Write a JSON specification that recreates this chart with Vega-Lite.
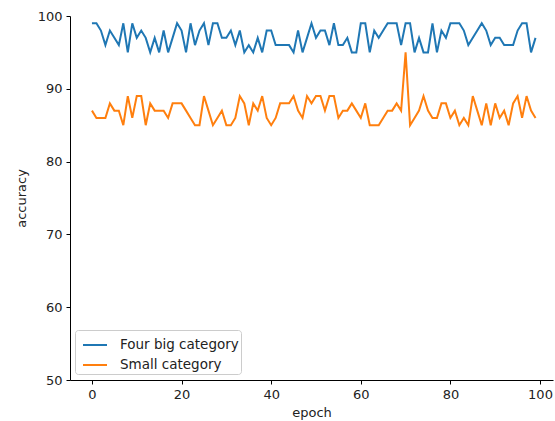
{
  "$schema": "https://vega.github.io/schema/vega-lite/v6.json",
  "width": 483,
  "height": 364,
  "autosize": {"type": "none"},
  "padding": {"left": 70, "top": 16, "right": 2, "bottom": 41},
  "background": "white",
  "config": {
    "font": "DejaVu Sans",
    "view": {"stroke": null},
    "axis": {
      "grid": false,
      "domainColor": "black",
      "tickColor": "black",
      "tickSize": 4,
      "labelFontSize": 13,
      "labelColor": "#222",
      "titleFontSize": 13,
      "titleFontWeight": "normal",
      "titleColor": "#222",
      "labelPadding": 4
    }
  },
  "datasets": {
    "big": [
      {"epoch":0,"accuracy":99},{"epoch":1,"accuracy":99},{"epoch":2,"accuracy":98},{"epoch":3,"accuracy":96},{"epoch":4,"accuracy":98},
      {"epoch":5,"accuracy":97},{"epoch":6,"accuracy":96},{"epoch":7,"accuracy":99},{"epoch":8,"accuracy":95},{"epoch":9,"accuracy":99},
      {"epoch":10,"accuracy":97},{"epoch":11,"accuracy":98},{"epoch":12,"accuracy":97},{"epoch":13,"accuracy":95},{"epoch":14,"accuracy":97},
      {"epoch":15,"accuracy":95},{"epoch":16,"accuracy":98},{"epoch":17,"accuracy":95},{"epoch":18,"accuracy":97},{"epoch":19,"accuracy":99},
      {"epoch":20,"accuracy":98},{"epoch":21,"accuracy":95},{"epoch":22,"accuracy":99},{"epoch":23,"accuracy":96},{"epoch":24,"accuracy":98},
      {"epoch":25,"accuracy":99},{"epoch":26,"accuracy":96},{"epoch":27,"accuracy":99},{"epoch":28,"accuracy":99},{"epoch":29,"accuracy":97},
      {"epoch":30,"accuracy":97},{"epoch":31,"accuracy":98},{"epoch":32,"accuracy":96},{"epoch":33,"accuracy":98},{"epoch":34,"accuracy":95},
      {"epoch":35,"accuracy":96},{"epoch":36,"accuracy":95},{"epoch":37,"accuracy":97},{"epoch":38,"accuracy":95},{"epoch":39,"accuracy":98},
      {"epoch":40,"accuracy":98},{"epoch":41,"accuracy":96},{"epoch":42,"accuracy":96},{"epoch":43,"accuracy":96},{"epoch":44,"accuracy":96},
      {"epoch":45,"accuracy":95},{"epoch":46,"accuracy":98},{"epoch":47,"accuracy":95},{"epoch":48,"accuracy":97},{"epoch":49,"accuracy":99},
      {"epoch":50,"accuracy":97},{"epoch":51,"accuracy":98},{"epoch":52,"accuracy":98},{"epoch":53,"accuracy":96},{"epoch":54,"accuracy":99},
      {"epoch":55,"accuracy":96},{"epoch":56,"accuracy":96},{"epoch":57,"accuracy":97},{"epoch":58,"accuracy":95},{"epoch":59,"accuracy":95},
      {"epoch":60,"accuracy":99},{"epoch":61,"accuracy":99},{"epoch":62,"accuracy":95},{"epoch":63,"accuracy":98},{"epoch":64,"accuracy":97},
      {"epoch":65,"accuracy":98},{"epoch":66,"accuracy":99},{"epoch":67,"accuracy":99},{"epoch":68,"accuracy":99},{"epoch":69,"accuracy":96},
      {"epoch":70,"accuracy":99},{"epoch":71,"accuracy":99},{"epoch":72,"accuracy":95},{"epoch":73,"accuracy":97},{"epoch":74,"accuracy":95},
      {"epoch":75,"accuracy":95},{"epoch":76,"accuracy":99},{"epoch":77,"accuracy":95},{"epoch":78,"accuracy":98},{"epoch":79,"accuracy":97},
      {"epoch":80,"accuracy":99},{"epoch":81,"accuracy":99},{"epoch":82,"accuracy":99},{"epoch":83,"accuracy":98},{"epoch":84,"accuracy":96},
      {"epoch":85,"accuracy":97},{"epoch":86,"accuracy":98},{"epoch":87,"accuracy":99},{"epoch":88,"accuracy":98},{"epoch":89,"accuracy":96},
      {"epoch":90,"accuracy":97},{"epoch":91,"accuracy":97},{"epoch":92,"accuracy":96},{"epoch":93,"accuracy":96},{"epoch":94,"accuracy":96},
      {"epoch":95,"accuracy":98},{"epoch":96,"accuracy":99},{"epoch":97,"accuracy":99},{"epoch":98,"accuracy":95},{"epoch":99,"accuracy":97}
    ],
    "small": [
      {"epoch":0,"accuracy":87},{"epoch":1,"accuracy":86},{"epoch":2,"accuracy":86},{"epoch":3,"accuracy":86},{"epoch":4,"accuracy":88},
      {"epoch":5,"accuracy":87},{"epoch":6,"accuracy":87},{"epoch":7,"accuracy":85},{"epoch":8,"accuracy":89},{"epoch":9,"accuracy":86},
      {"epoch":10,"accuracy":89},{"epoch":11,"accuracy":89},{"epoch":12,"accuracy":85},{"epoch":13,"accuracy":88},{"epoch":14,"accuracy":87},
      {"epoch":15,"accuracy":87},{"epoch":16,"accuracy":87},{"epoch":17,"accuracy":86},{"epoch":18,"accuracy":88},{"epoch":19,"accuracy":88},
      {"epoch":20,"accuracy":88},{"epoch":21,"accuracy":87},{"epoch":22,"accuracy":86},{"epoch":23,"accuracy":85},{"epoch":24,"accuracy":85},
      {"epoch":25,"accuracy":89},{"epoch":26,"accuracy":87},{"epoch":27,"accuracy":85},{"epoch":28,"accuracy":86},{"epoch":29,"accuracy":87},
      {"epoch":30,"accuracy":85},{"epoch":31,"accuracy":85},{"epoch":32,"accuracy":86},{"epoch":33,"accuracy":89},{"epoch":34,"accuracy":88},
      {"epoch":35,"accuracy":85},{"epoch":36,"accuracy":88},{"epoch":37,"accuracy":87},{"epoch":38,"accuracy":89},{"epoch":39,"accuracy":86},
      {"epoch":40,"accuracy":85},{"epoch":41,"accuracy":86},{"epoch":42,"accuracy":88},{"epoch":43,"accuracy":88},{"epoch":44,"accuracy":88},
      {"epoch":45,"accuracy":89},{"epoch":46,"accuracy":87},{"epoch":47,"accuracy":86},{"epoch":48,"accuracy":89},{"epoch":49,"accuracy":88},
      {"epoch":50,"accuracy":89},{"epoch":51,"accuracy":89},{"epoch":52,"accuracy":87},{"epoch":53,"accuracy":89},{"epoch":54,"accuracy":89},
      {"epoch":55,"accuracy":86},{"epoch":56,"accuracy":87},{"epoch":57,"accuracy":87},{"epoch":58,"accuracy":88},{"epoch":59,"accuracy":87},
      {"epoch":60,"accuracy":86},{"epoch":61,"accuracy":88},{"epoch":62,"accuracy":85},{"epoch":63,"accuracy":85},{"epoch":64,"accuracy":85},
      {"epoch":65,"accuracy":86},{"epoch":66,"accuracy":87},{"epoch":67,"accuracy":87},{"epoch":68,"accuracy":88},{"epoch":69,"accuracy":87},
      {"epoch":70,"accuracy":95},{"epoch":71,"accuracy":85},{"epoch":72,"accuracy":86},{"epoch":73,"accuracy":87},{"epoch":74,"accuracy":89},
      {"epoch":75,"accuracy":87},{"epoch":76,"accuracy":86},{"epoch":77,"accuracy":86},{"epoch":78,"accuracy":88},{"epoch":79,"accuracy":88},
      {"epoch":80,"accuracy":86},{"epoch":81,"accuracy":87},{"epoch":82,"accuracy":85},{"epoch":83,"accuracy":86},{"epoch":84,"accuracy":85},
      {"epoch":85,"accuracy":89},{"epoch":86,"accuracy":87},{"epoch":87,"accuracy":85},{"epoch":88,"accuracy":88},{"epoch":89,"accuracy":85},
      {"epoch":90,"accuracy":88},{"epoch":91,"accuracy":86},{"epoch":92,"accuracy":87},{"epoch":93,"accuracy":85},{"epoch":94,"accuracy":88},
      {"epoch":95,"accuracy":89},{"epoch":96,"accuracy":86},{"epoch":97,"accuracy":89},{"epoch":98,"accuracy":87},{"epoch":99,"accuracy":86}
    ]
  },
  "layer": [
    {
      "data": {"name": "big"},
      "mark": {"type": "line", "strokeWidth": 2},
      "encoding": {
        "x": {"field": "epoch", "type": "quantitative", "scale": {"domain": [-4.9, 102.9], "nice": false, "zero": false}, "axis": {"values": [0,20,40,60,80,100], "title": "epoch", "titlePadding": 5}},
        "y": {"field": "accuracy", "type": "quantitative", "scale": {"domain": [50, 100], "nice": false, "zero": false}, "axis": {"values": [50,60,70,80,90,100], "title": "accuracy", "titlePadding": 9}},
        "color": {"datum": "Four big category", "type": "nominal", "scale": {"domain": ["Four big category", "Small category"], "range": ["#1f77b4", "#ff7f0e"]},
          "legend": {"title": null, "orient": "none", "legendX": 5, "legendY": 314, "symbolType": "stroke", "symbolSize": 576, "symbolStrokeWidth": 2, "symbolOffset": 5, "labelFontSize": 13.5, "labelColor": "#222", "labelOffset": 12, "rowPadding": -3, "padding": 2, "strokeColor": "#cccccc", "fillColor": "white", "cornerRadius": 3}}
      }
    },
    {
      "data": {"name": "small"},
      "mark": {"type": "line", "strokeWidth": 2},
      "encoding": {
        "x": {"field": "epoch", "type": "quantitative"},
        "y": {"field": "accuracy", "type": "quantitative"},
        "color": {"datum": "Small category", "type": "nominal"}
      }
    },
    {
      "mark": {"type": "rule", "color": "black", "strokeWidth": 1},
      "encoding": {"y": {"datum": 100}}
    }
  ]
}
